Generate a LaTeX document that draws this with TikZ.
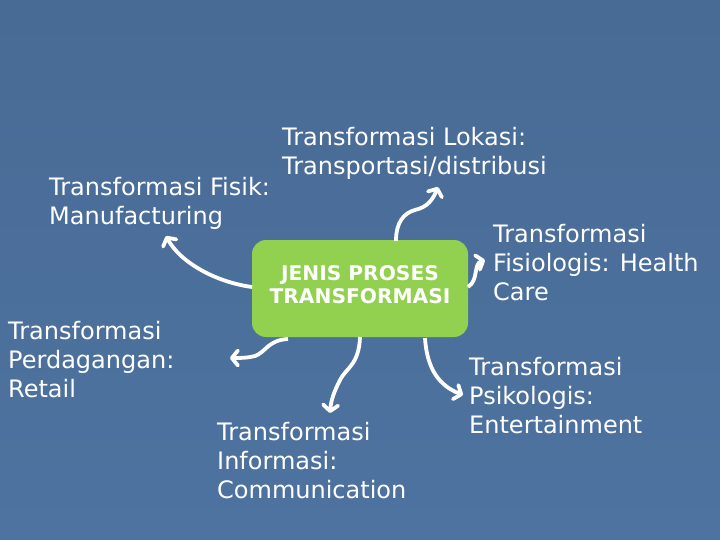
\documentclass[tikz,border=0pt]{standalone}
\usepackage{fontspec}
\setmainfont{DejaVu Sans}
\usetikzlibrary{arrows.meta}
\definecolor{bgtop}{HTML}{486B95}
\definecolor{bgbot}{HTML}{4E73A0}
\definecolor{boxgreen}{HTML}{92D050}
\begin{document}
\begin{tikzpicture}[x=1pt,y=-1pt,
  lbl/.style={anchor=west,inner sep=0pt,align=left,text=white,
    font=\fontsize{24}{29}\selectfont},
  conn/.style={draw=white,line width=3.8pt,
    -{Straight Barb[length=6pt,width=15pt,round]}}]
\useasboundingbox (0,0) rectangle (720,540);
\fill[top color=bgtop,bottom color=bgbot] (0,0) rectangle (720,540);

% central box
\node[draw=none,fill=boxgreen,rounded corners=14pt,minimum width=216pt,
  minimum height=97pt,inner sep=0pt] (box) at (360,288.5) {};
\node[text=white,align=center,inner sep=0pt,
  font=\fontsize{20.2}{23.5}\selectfont\bfseries] (boxtext) at (360,284.5)
  {JENIS PROSES\\TRANSFORMASI};

% labels
\node[lbl] (lokasi) at (282,153.5) {Transformasi Lokasi:\\Transportasi/distribusi};
\node[lbl] (fisik) at (49,203) {Transformasi Fisik:\\Manufacturing};
\node[lbl] (fisiologis) at (493,263) {Transformasi\\Fisiologis: Health\\Care};
\node[lbl] (dagang) at (8,360) {Transformasi\\Perdagangan:\\Retail};
\node[lbl] (informasi) at (217,461) {Transformasi\\Informasi:\\Communication};
\node[lbl] (psikologis) at (469,396) {Transformasi\\Psikologis:\\Entertainment};

% connector end points
\coordinate (sFisik) at (252,287);
\coordinate (tFisik) at (166,236);
\coordinate (sLokasi) at (396,241);
\coordinate (tLokasi) at (438,187);
\coordinate (sFisio) at (468,287);
\coordinate (tFisio) at (485,260);
\coordinate (sDagang) at (288,339);
\coordinate (tDagang) at (230,358);
\coordinate (sInfo) at (360,337);
\coordinate (tInfo) at (330,413);
\coordinate (sPsiko) at (425,338);
\coordinate (tPsiko) at (463,395);

% connectors
\draw[conn] (sFisik) .. controls (215,282) and (180,262) .. (tFisik);
\draw[conn] (sLokasi) .. controls (396,222) and (404,213) .. (415,210)
  .. controls (428,207) and (433,199) .. (tLokasi);
\draw[conn] (sFisio) .. controls (479,280) and (473,264) .. (tFisio);
\draw[conn] (sDagang) .. controls (268,340) and (266,352) .. (255,356)
  .. controls (248,358) and (240,358) .. (tDagang);
\draw[conn] (sInfo) .. controls (359,365) and (346,368) .. (340,380)
  .. controls (334,392) and (331,400) .. (tInfo);
\draw[conn] (sPsiko) .. controls (427,370) and (440,386) .. (tPsiko);
\end{tikzpicture}
\end{document}
